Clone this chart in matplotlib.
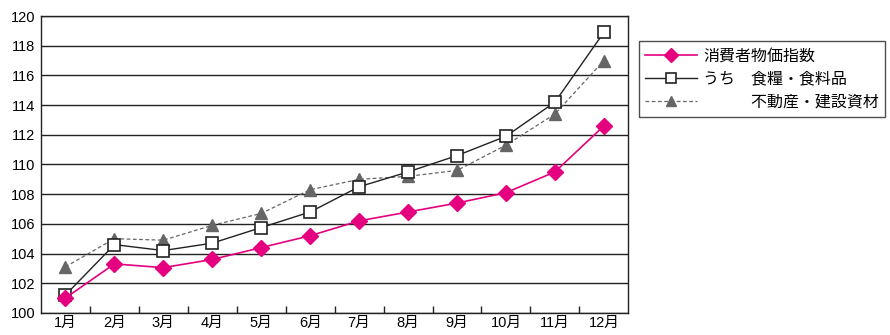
import matplotlib.pyplot as plt
import numpy as np

plt.rcParams['font.family'] = ['Noto Sans CJK JP', 'DejaVu Sans']

# データ
meses = ['1月', '2月', '3月', '4月', '5月', '6月', '7月', '8月', '9月', '10月', '11月', '12月']
consumo = [101.0, 103.3, 103.05, 103.6, 104.4, 105.2, 106.2, 106.8, 107.4, 108.1, 109.5, 112.6]
alimentos = [101.2, 104.6, 104.2, 104.7, 105.75, 106.8, 108.5, 109.5, 110.6, 111.9, 114.2, 118.9]
construccion = [103.1, 105.0, 104.9, 105.9, 106.7, 108.3, 109.0, 109.2, 109.6, 111.3, 113.4, 117.0]
yticks = list(range(100, 121, 2))

fig = plt.figure(figsize=(8.9, 3.35), dpi=100)
ax = fig.add_axes([0.046, 0.066, 0.66, 0.886])

x = np.arange(len(meses))

ax.plot(x, construccion, color='#666666', linestyle=(0, (3, 2)), linewidth=0.9,
        marker='^', markersize=8, markerfacecolor='#666666', markeredgecolor='#666666',
        label='\u3000\u3000\u3000不動産・建設資材', zorder=3)
ax.plot(x, alimentos, color='#222222', linewidth=1.0,
        marker='s', markersize=9, markerfacecolor='white', markeredgecolor='#222222',
        markeredgewidth=1.2, label='うち\u3000食糧・食料品', zorder=4)
ax.plot(x, consumo, color='#e4007f', linewidth=1.2,
        marker='D', markersize=8, markerfacecolor='#e4007f', markeredgecolor='#e4007f',
        label='消費者物価指数', zorder=5)

tick_font = ['Liberation Sans', 'Noto Sans CJK JP']

ax.set_xlim(-0.5, len(meses) - 0.5)
ax.set_ylim(100, 120)
ax.set_yticks(yticks)
ax.set_yticklabels([str(v) for v in yticks], fontsize=10.5, family=tick_font)
ax.yaxis.grid(True, color='#222222', linewidth=1.0)
ax.set_axisbelow(True)
ax.tick_params(axis='y', length=0, pad=4)

ax.set_xticks(x)
ax.set_xticklabels(meses, fontsize=10.5, family=tick_font)
ax.set_xticks(np.arange(0.5, len(meses) - 0.5), minor=True)
ax.tick_params(axis='x', which='major', length=0, pad=2)
ax.tick_params(axis='x', which='minor', direction='in', length=5, width=1, color='#222222')

for s in ax.spines.values():
    s.set_color('#222222')
    s.set_linewidth(1.0)

handles, labels = ax.get_legend_handles_labels()
order = [2, 1, 0]
leg = fig.legend([handles[i] for i in order], [labels[i] for i in order],
                 loc='upper left', bbox_to_anchor=(0.718, 0.877),
                 fontsize=11.5, frameon=True, fancybox=False, edgecolor='#222222',
                 handlelength=3.2, handletextpad=0.4, labelspacing=0.38,
                 borderpad=0.4, borderaxespad=0, markerscale=0.85)
leg.get_frame().set_linewidth(1.0)

fig.savefig('out.png', dpi=100)
